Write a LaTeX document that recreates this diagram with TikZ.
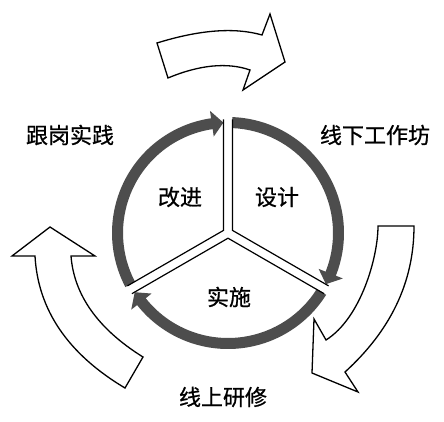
\documentclass[tikz,border=0pt]{standalone}
\usepackage{fontspec}
\newfontfamily\cjk[FakeBold=0.8]{Noto Sans CJK SC}
\usetikzlibrary{calc}
\definecolor{bandgray}{HTML}{4D4D4D}
\tikzset{
  band/.style={fill=bandgray, draw=none},
  hollow/.style={draw=black, fill=white, line width=1.3pt, line join=miter},
  wedge/.style={draw=black, line width=1.2pt},
  lbl/.style={font=\cjk\fontsize{22}{26}\selectfont, text=black, inner sep=0pt}
}
\begin{document}
\begin{tikzpicture}[x=1pt,y=1pt]
\useasboundingbox (0,0) rectangle (444,-422);
\fill[white] (0,0) rectangle (444,-422);

% hollow arrows
\draw[hollow] (157,-43) .. controls (199,-30) and (234,-27) .. (262,-35) -- (270,-14) -- (285,-62) -- (243,-90) -- (250,-70) .. controls (227,-62) and (199,-65) .. (168,-78) -- cycle;
\draw[hollow] (35,-256) -- (12,-256) -- (50,-227) -- (95,-256) -- (71,-256) .. controls (74,-295) and (98,-329) .. (143,-357) -- (125,-388) .. controls (68,-354) and (38,-310) .. (35,-256) -- cycle;
\draw[hollow] (378,-226) -- (414,-226) .. controls (414,-283) and (390,-331) .. (345,-372) -- (358,-392) -- (312,-373) -- (314,-319) -- (326,-340) .. controls (361,-318) and (378,-257) .. (378,-226) -- cycle;

\begin{scope}[shift={(228,-233)}]
  \coordinate (C) at (0,0);
  % right arc: 90 -> -30
  \fill[band] (87.8:116pt) arc[start angle=87.8, end angle=-21.6, radius=116pt]
    -- (-21.6:123.5pt) -- (-27.6:110.5pt) -- (-21.6:97.5pt) -- (-21.6:105pt)
    arc[start angle=-21.6, end angle=87.55, radius=105pt] -- cycle;
  % left arc: 210 -> 90
  \fill[band] (207.8:116pt) arc[start angle=207.8, end angle=98.4, radius=116pt]
    -- (98.4:123.5pt) -- (92.4:110.5pt) -- (98.4:97.5pt) -- (98.4:105pt)
    arc[start angle=98.4, end angle=207.55, radius=105pt] -- cycle;
  % bottom arc: -30 -> -150
  \fill[band] (-32.2:116pt) arc[start angle=-32.2, end angle=-141.6, radius=116pt]
    -- (-141.6:123.5pt) -- (-147.6:110.5pt) -- (-141.6:97.5pt) -- (-141.6:105pt)
    arc[start angle=-141.6, end angle=-32.45, radius=105pt] -- cycle;

  % Y double lines
  \coordinate (a1) at (30:5.2pt);
  \coordinate (a2) at (150:5.2pt);
  \coordinate (a3) at (270:5.2pt);
  \draw[wedge] ($(a1)+(90:111pt)$) -- (a1) -- ($(a1)+(-30:111pt)$);
  \draw[wedge] ($(a2)+(90:111pt)$) -- (a2) -- ($(a2)+(210:111pt)$);
  \draw[wedge] ($(a3)+(-30:111pt)$) -- (a3) -- ($(a3)+(210:111pt)$);
\end{scope}

% labels
\node[lbl] (gaijin) at (180,-197) {改进};
\node[lbl] (sheji) at (277,-197) {设计};
\node[lbl] (shishi) at (229,-297) {实施};
\node[lbl] (gengang) at (70,-135) {跟岗实践};
\node[lbl] (xianxia) at (375,-135) {线下工作坊};
\node[lbl] (xianshang) at (223,-397) {线上研修};
\end{tikzpicture}
\end{document}
